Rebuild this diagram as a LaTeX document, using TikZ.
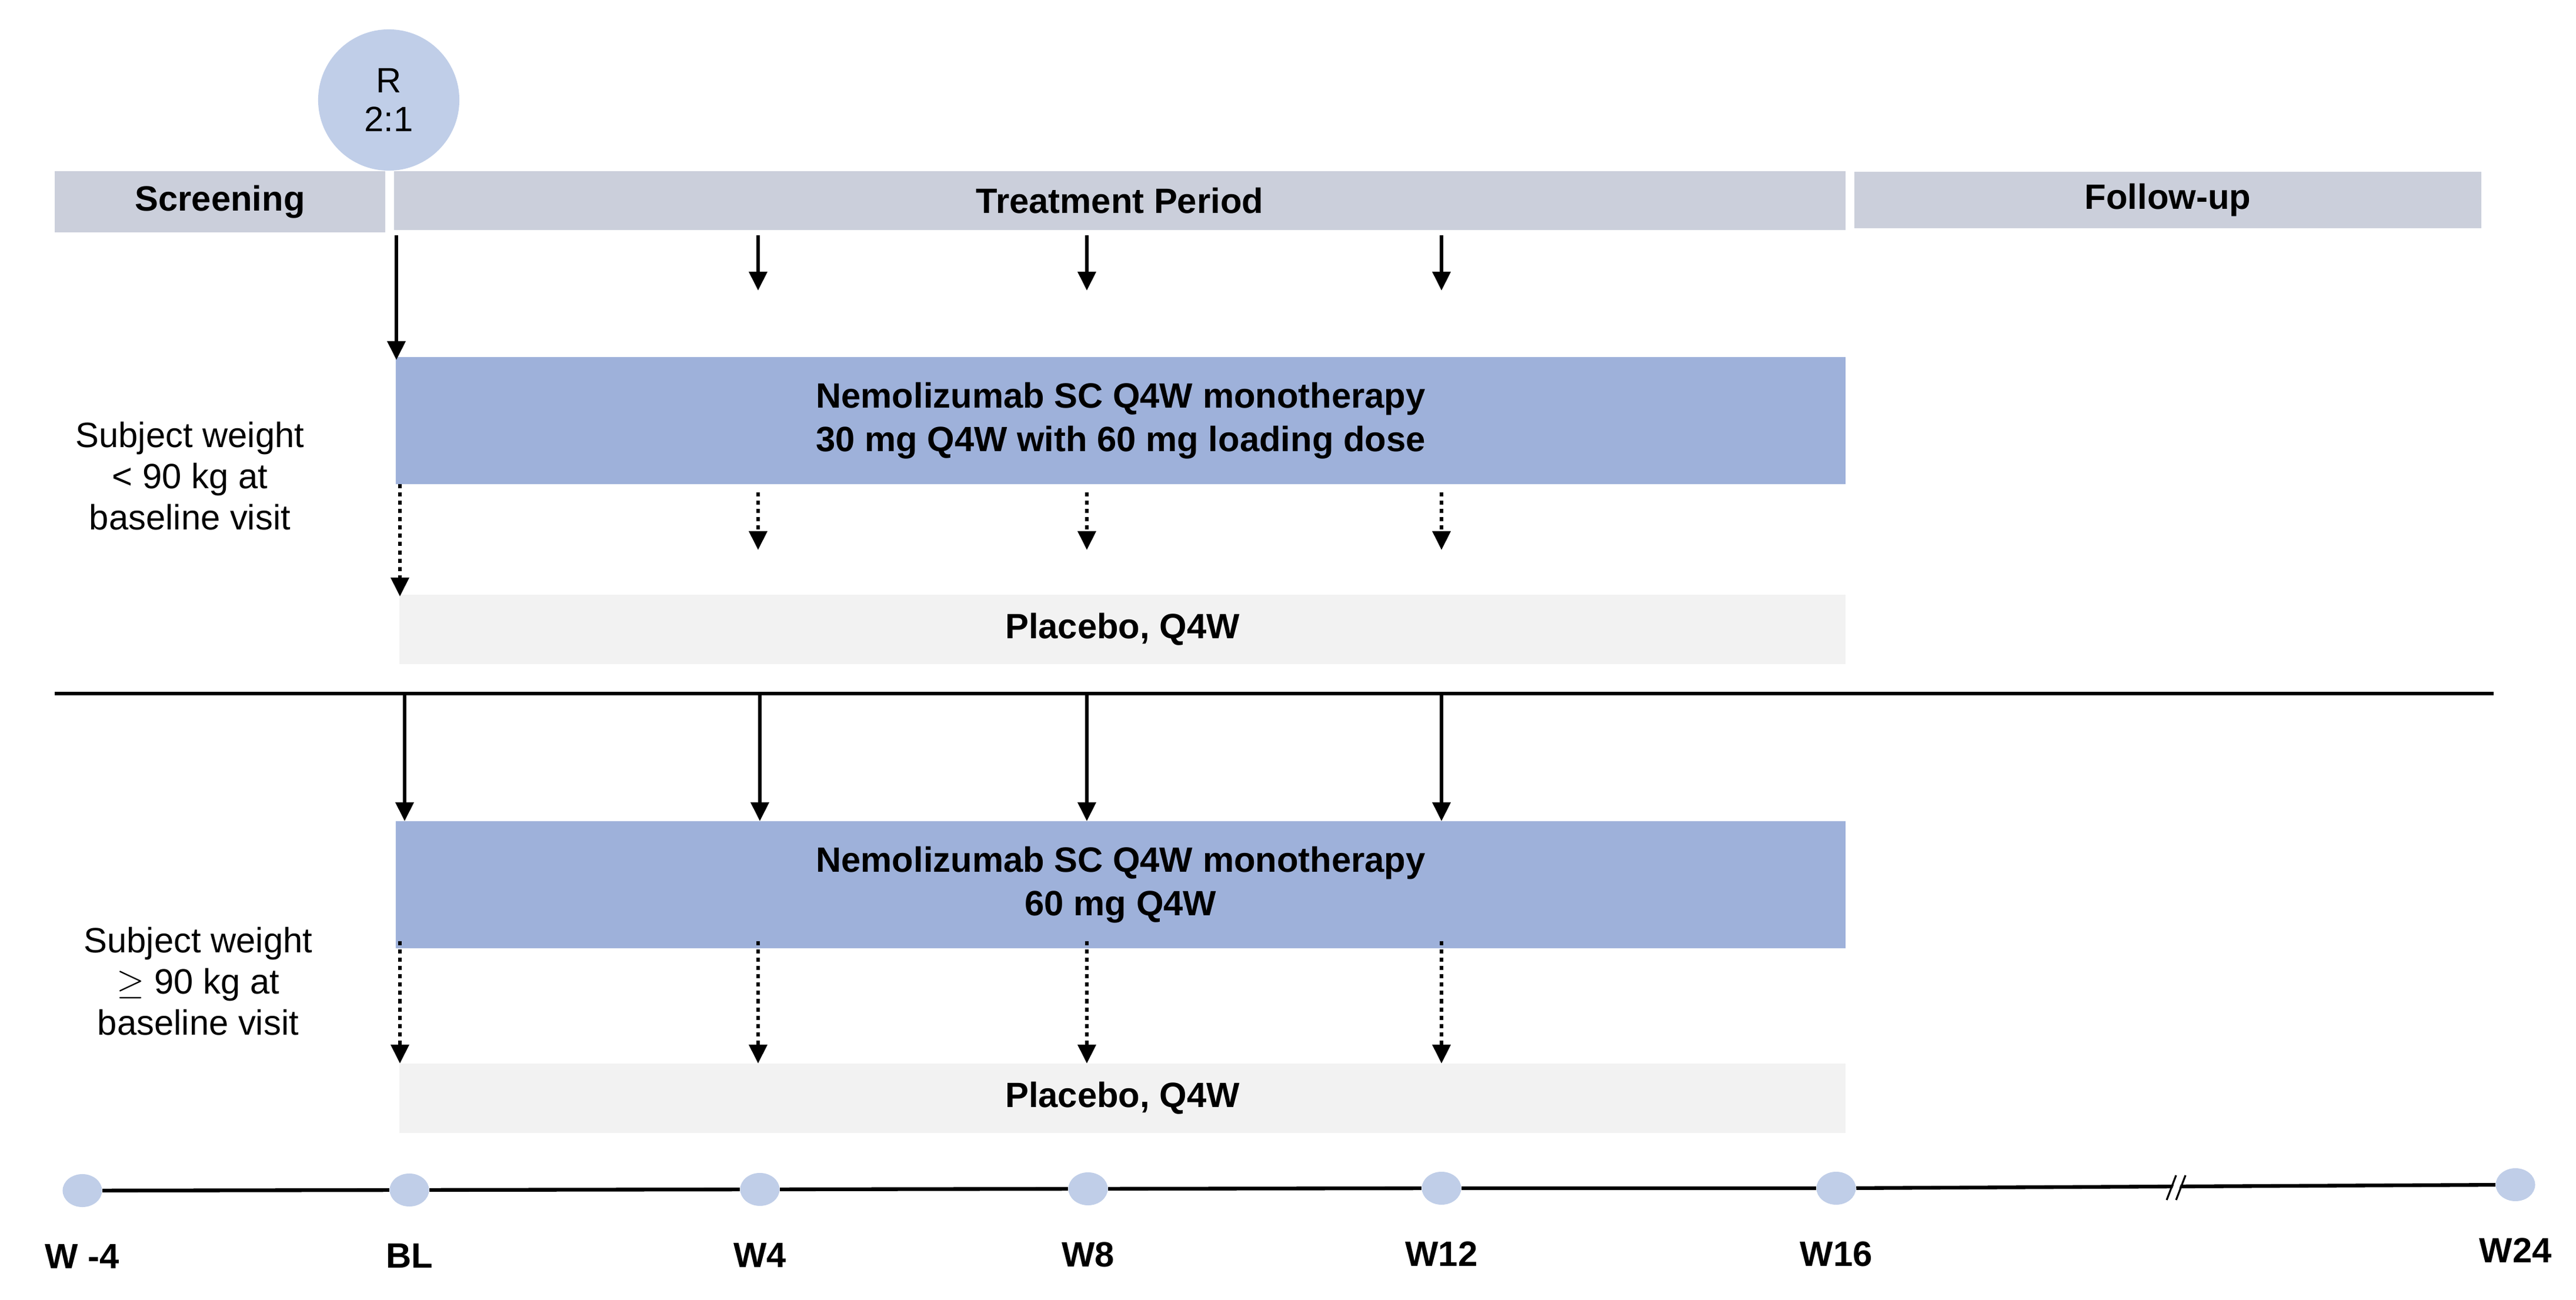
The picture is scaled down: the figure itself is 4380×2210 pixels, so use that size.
\documentclass[tikz,border=0pt]{standalone}
\usepackage{fontspec}
\setmainfont{Liberation Sans}
\usetikzlibrary{positioning,shapes.geometric,arrows.meta}
\definecolor{barGray}{RGB}{203,207,219}
\definecolor{armBlue}{RGB}{158,177,218}
\definecolor{dotBlue}{RGB}{192,206,232}
\definecolor{pboGray}{RGB}{242,242,242}
\begin{document}
\begin{tikzpicture}[x=0.01cm, y=-0.01cm, font=\fontsize{17}{19}\selectfont,
    bar/.style={fill=barGray, inner sep=0pt, minimum height=1cm, font=\fontsize{17}{19}\selectfont\bfseries},
    arm/.style={fill=armBlue, inner sep=0pt, minimum width=24.63cm, minimum height=2.16cm, align=center, font=\fontsize{17}{19}\selectfont\bfseries},
    pbo/.style={fill=pboGray, inner sep=0pt, minimum width=24.57cm, minimum height=1.18cm, font=\fontsize{17}{19}\selectfont\bfseries},
    dose/.style={-{Triangle[length=0.32cm,width=0.3cm]}, line width=1.8pt},
    sham/.style={dose, dash pattern=on 2pt off 2pt},
    tick/.style={below=0.5cm of #1, font=\fontsize{17}{19}\selectfont\bfseries},
    visit/.style={ellipse, fill=dotBlue, minimum width=0.67cm, minimum height=0.56cm, inner sep=0pt}]
  \useasboundingbox (0,0) rectangle (4380,2210);
  % phases
  \node[bar, minimum width=5.62cm, minimum height=1.04cm] (scr) at (374,343) {Screening};
  \node[bar, minimum width=24.66cm] (trt) at (1904,341) {Treatment Period};
  \node[bar, minimum width=10.65cm, minimum height=0.96cm] (fu) at (3686,340) {Follow-up};
  \node[circle, fill=dotBlue, minimum size=2.4cm, align=center] (rand) at (661,170) {R\\2:1};
  % arms
  \node[arm] (armA) at (1905.5,715) {Nemolizumab SC Q4W monotherapy\\[2pt]30 mg Q4W with 60 mg loading dose};
  \node[pbo] (pboA) at (1908.5,1070) {Placebo, Q4W};
  \node[arm] (armB) at (1905.5,1504) {Nemolizumab SC Q4W monotherapy\\[2pt]60 mg Q4W};
  \node[pbo] (pboB) at (1908.5,1867) {Placebo, Q4W};
  \node[align=center] (wtA) at (323,809) {Subject weight\\[1pt]< 90 kg at\\[1pt]baseline visit};
  \node[align=center] (wtB) at (337,1668) {Subject weight\\[1pt]$\geq$ 90 kg at\\[1pt]baseline visit};
  % upper group
  \coordinate (a0) at (674,400);   \coordinate (b0) at (674,612);
  \coordinate (a1) at (1289,400);  \coordinate (b1) at (1289,494);
  \coordinate (a2) at (1848,400);  \coordinate (b2) at (1848,494);
  \coordinate (a3) at (2451,400);  \coordinate (b3) at (2451,494);
  \draw[dose] (a0) -- (b0);
  \draw[dose] (a1) -- (b1);
  \draw[dose] (a2) -- (b2);
  \draw[dose] (a3) -- (b3);
  \coordinate (c0) at (680,823);   \coordinate (e0) at (680,1014);
  \coordinate (c1) at (1289,837);  \coordinate (e1) at (1289,935);
  \coordinate (c2) at (1848,837);  \coordinate (e2) at (1848,935);
  \coordinate (c3) at (2451,837);  \coordinate (e3) at (2451,935);
  \draw[sham] (c0) -- (e0);
  \draw[sham] (c1) -- (e1);
  \draw[sham] (c2) -- (e2);
  \draw[sham] (c3) -- (e3);
  % separator
  \coordinate (sepL) at (93,1179); \coordinate (sepR) at (4240,1179);
  \draw[line width=1.8pt] (sepL) -- (sepR);
  % lower group
  \coordinate (f0) at (688,1179);  \coordinate (g0) at (688,1396);
  \coordinate (f1) at (1292,1179); \coordinate (g1) at (1292,1396);
  \coordinate (f2) at (1848,1179); \coordinate (g2) at (1848,1396);
  \coordinate (f3) at (2451,1179); \coordinate (g3) at (2451,1396);
  \draw[dose] (f0) -- (g0);
  \draw[dose] (f1) -- (g1);
  \draw[dose] (f2) -- (g2);
  \draw[dose] (f3) -- (g3);
  \coordinate (h0) at (680,1600);  \coordinate (k0) at (680,1808);
  \coordinate (h1) at (1289,1600); \coordinate (k1) at (1289,1808);
  \coordinate (h2) at (1848,1600); \coordinate (k2) at (1848,1808);
  \coordinate (h3) at (2451,1600); \coordinate (k3) at (2451,1808);
  \draw[sham] (h0) -- (k0);
  \draw[sham] (h1) -- (k1);
  \draw[sham] (h2) -- (k2);
  \draw[sham] (h3) -- (k3);
  % timeline
  \node[visit] (vS) at (140,2024) {};
  \node[visit] (vBL) at (696,2023) {};
  \node[visit] (v4) at (1292,2022) {};
  \node[visit] (v8) at (1850,2021) {};
  \node[visit] (v12) at (2451,2020) {};
  \node[visit] (v16) at (3122,2020) {};
  \node[visit] (v24) at (4277,2014) {};
  \draw[line width=1.8pt] (vS) -- (vBL) -- (v4) -- (v8) -- (v12) -- (v16) -- (v24);
  \draw[white, line width=3pt] (3692,2040) -- (3708,1998);
  \draw[line width=0.9pt] (3684,2040) -- (3700,1998);
  \draw[line width=0.9pt] (3700,2040) -- (3716,1998);
  \node[tick=vS] (lS) {W -4};
  \node[tick=vBL] (lBL) {BL};
  \node[tick=v4] (l4) {W4};
  \node[tick=v8] (l8) {W8};
  \node[tick=v12] (l12) {W12};
  \node[tick=v16] (l16) {W16};
  \node[tick=v24] (l24) {W24};
\end{tikzpicture}
\end{document}
